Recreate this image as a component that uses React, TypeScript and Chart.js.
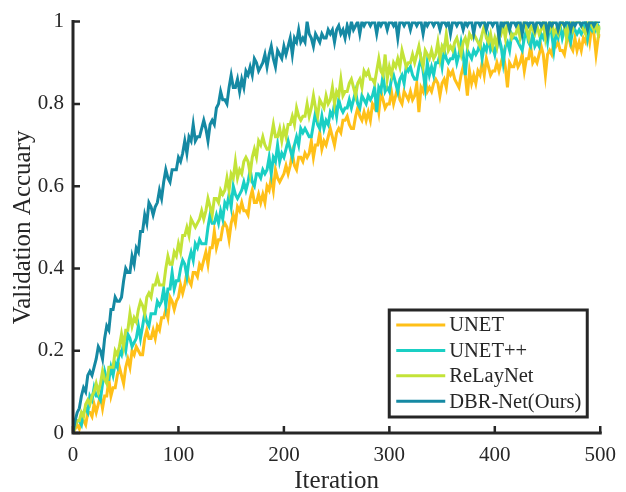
import React, { useEffect, useRef } from "react";
import { Chart, registerables } from "chart.js";

Chart.register(...registerables);

// iteration numbers (every 2 iterations)
const iterations = [
  0, 2, 4, 6, 8, 10, 12, 14, 16, 18, 20, 22, 24, 26, 28, 30, 32, 34, 36, 38,
  40, 42, 44, 46, 48, 50, 52, 54, 56, 58, 60, 62, 64, 66, 68, 70, 72, 74, 76, 78,
  80, 82, 84, 86, 88, 90, 92, 94, 96, 98, 100, 102, 104, 106, 108, 110, 112, 114, 116, 118,
  120, 122, 124, 126, 128, 130, 132, 134, 136, 138, 140, 142, 144, 146, 148, 150, 152, 154, 156, 158,
  160, 162, 164, 166, 168, 170, 172, 174, 176, 178, 180, 182, 184, 186, 188, 190, 192, 194, 196, 198,
  200, 202, 204, 206, 208, 210, 212, 214, 216, 218, 220, 222, 224, 226, 228, 230, 232, 234, 236, 238,
  240, 242, 244, 246, 248, 250, 252, 254, 256, 258, 260, 262, 264, 266, 268, 270, 272, 274, 276, 278,
  280, 282, 284, 286, 288, 290, 292, 294, 296, 298, 300, 302, 304, 306, 308, 310, 312, 314, 316, 318,
  320, 322, 324, 326, 328, 330, 332, 334, 336, 338, 340, 342, 344, 346, 348, 350, 352, 354, 356, 358,
  360, 362, 364, 366, 368, 370, 372, 374, 376, 378, 380, 382, 384, 386, 388, 390, 392, 394, 396, 398,
  400, 402, 404, 406, 408, 410, 412, 414, 416, 418, 420, 422, 424, 426, 428, 430, 432, 434, 436, 438,
  440, 442, 444, 446, 448, 450, 452, 454, 456, 458, 460, 462, 464, 466, 468, 470, 472, 474, 476, 478,
  480, 482, 484, 486, 488, 490, 492, 494, 496, 498, 500,
];

// validation accuracy in percent
const unetPct = [
  0, 1, 2, 1, 3, 3, 2, 5, 5, 4,
  7, 5, 7, 9, 6, 9, 9, 13, 9, 11,
  11, 14, 16, 14, 12, 16, 18, 16, 20, 19,
  21, 20, 19, 19, 23, 25, 23, 23, 25, 23,
  26, 25, 28, 28, 30, 28, 33, 32, 30, 32,
  33, 36, 34, 36, 39, 37, 36, 39, 39, 38,
  41, 40, 42, 44, 41, 45, 45, 49, 45, 47,
  47, 50, 51, 50, 47, 51, 53, 51, 55, 54,
  56, 54, 54, 53, 57, 59, 56, 56, 58, 56,
  58, 56, 60, 59, 62, 59, 64, 62, 61, 62,
  63, 65, 63, 65, 68, 65, 64, 67, 67, 66,
  68, 67, 68, 71, 67, 70, 70, 73, 69, 71,
  70, 72, 74, 72, 70, 73, 74, 73, 76, 76,
  77, 75, 74, 74, 77, 79, 77, 76, 78, 76,
  78, 76, 80, 79, 81, 78, 83, 81, 79, 80,
  80, 83, 80, 82, 84, 81, 80, 83, 82, 81,
  83, 81, 82, 85, 78, 84, 83, 86, 83, 84,
  83, 85, 86, 85, 82, 85, 86, 84, 88, 87,
  88, 86, 85, 84, 87, 89, 87, 82, 88, 85,
  87, 85, 88, 87, 90, 87, 91, 89, 87, 88,
  88, 90, 88, 90, 92, 89, 84, 90, 89, 89,
  91, 89, 90, 92, 88, 91, 91, 94, 90, 91,
  90, 92, 94, 92, 87, 92, 93, 92, 95, 94,
  95, 93, 93, 92, 95, 97, 94, 93, 96, 93,
  95, 93, 96, 95, 98, 95, 99, 97, 92, 96,
  97,
];

const unetppPct = [
  0, 2, 3, 3, 2, 5, 6, 5, 9, 8,
  11, 9, 9, 8, 12, 15, 13, 13, 16, 14,
  17, 16, 20, 19, 22, 20, 24, 23, 21, 22,
  23, 26, 23, 26, 29, 27, 26, 29, 29, 29,
  32, 31, 32, 35, 31, 35, 35, 39, 35, 37,
  37, 40, 42, 41, 38, 42, 44, 42, 46, 45,
  47, 46, 46, 46, 50, 53, 51, 51, 53, 51,
  54, 52, 56, 55, 58, 55, 60, 58, 57, 58,
  59, 61, 59, 61, 64, 61, 60, 63, 63, 62,
  64, 63, 64, 67, 63, 67, 66, 70, 66, 68,
  67, 69, 71, 69, 67, 70, 72, 70, 74, 73,
  74, 73, 72, 72, 75, 78, 75, 74, 77, 74,
  76, 75, 78, 77, 80, 77, 81, 79, 78, 79,
  79, 81, 79, 81, 83, 80, 79, 82, 81, 80,
  82, 81, 82, 84, 78, 84, 83, 87, 83, 84,
  83, 86, 87, 85, 83, 86, 87, 85, 89, 88,
  89, 87, 86, 86, 89, 91, 88, 84, 90, 87,
  89, 87, 90, 90, 92, 89, 93, 91, 90, 91,
  91, 93, 90, 92, 95, 92, 87, 93, 92, 91,
  93, 92, 93, 95, 91, 94, 93, 96, 93, 94,
  92, 95, 96, 94, 90, 94, 95, 93, 97, 96,
  96, 95, 94, 93, 96, 98, 95, 94, 97, 94,
  95, 94, 97, 96, 98, 95, 99, 97, 93, 97,
  96, 99, 96, 98, 100, 97, 95, 98, 98, 97,
  98, 97, 98, 100, 96, 99, 98, 100, 98, 99,
  98,
];

const relaynetPct = [
  0, 2, 3, 3, 5, 4, 7, 8, 7, 9,
  10, 12, 10, 12, 15, 13, 12, 16, 16, 16,
  20, 19, 21, 24, 21, 25, 25, 29, 26, 28,
  27, 30, 32, 31, 29, 33, 34, 33, 36, 36,
  38, 36, 36, 36, 40, 43, 41, 41, 44, 43,
  46, 44, 48, 48, 50, 48, 52, 51, 50, 51,
  52, 54, 52, 54, 57, 55, 53, 57, 57, 56,
  59, 58, 59, 62, 59, 63, 62, 66, 62, 64,
  63, 66, 67, 66, 63, 67, 69, 67, 71, 70,
  72, 70, 69, 69, 72, 75, 72, 72, 74, 71,
  74, 72, 75, 75, 77, 75, 79, 77, 76, 77,
  77, 80, 77, 79, 82, 79, 77, 81, 80, 79,
  82, 80, 81, 84, 80, 83, 82, 86, 82, 83,
  83, 85, 86, 84, 82, 85, 86, 84, 88, 87,
  88, 86, 86, 85, 88, 91, 88, 87, 92, 86,
  89, 87, 90, 89, 91, 89, 93, 91, 89, 90,
  90, 92, 90, 92, 94, 91, 89, 93, 92, 91,
  93, 91, 92, 95, 91, 94, 93, 97, 93, 94,
  93, 95, 96, 94, 92, 95, 96, 94, 97, 96,
  97, 96, 95, 94, 97, 99, 96, 95, 97, 94,
  96, 94, 98, 97, 99, 96, 100, 98, 96, 97,
  97, 99, 96, 98, 100, 98, 96, 99, 98, 97,
  99, 97, 98, 100, 96, 99, 98, 100, 97, 98,
  97, 99, 100, 99, 96, 99, 100, 98, 100, 100,
  100, 99, 98, 97, 100, 100, 99, 98, 100, 97,
  99,
];

const dbrnetPct = [
  0, 3, 5, 6, 9, 11, 10, 14, 15, 14,
  16, 18, 21, 20, 18, 23, 26, 25, 30, 30,
  33, 32, 32, 33, 37, 40, 39, 39, 43, 41,
  45, 44, 49, 49, 53, 51, 56, 55, 53, 55,
  56, 59, 57, 61, 64, 62, 61, 64, 64, 64,
  67, 66, 68, 71, 68, 72, 71, 75, 71, 72,
  72, 74, 76, 74, 71, 75, 76, 75, 79, 80,
  83, 81, 81, 80, 84, 87, 84, 84, 86, 83,
  86, 84, 88, 87, 89, 87, 91, 90, 88, 89,
  90, 92, 89, 92, 94, 91, 89, 93, 92, 91,
  94, 92, 94, 96, 92, 96, 95, 98, 95, 96,
  95, 100, 97, 96, 94, 97, 96, 95, 97, 96,
  96, 98, 97, 98, 95, 98, 99, 97, 98, 96,
  99, 97, 100, 98, 99, 100, 97, 100, 99, 100,
  100, 99, 100, 100, 97, 100, 99, 100, 100, 98,
  100, 100, 99, 100, 96, 100, 100, 99, 100, 100,
  98, 100, 100, 99, 100, 100, 97, 100, 99, 100,
  100, 99, 100, 100, 98, 100, 100, 99, 100, 97,
  100, 100, 99, 100, 100, 98, 100, 99, 100, 100,
  97, 100, 100, 99, 100, 100, 98, 100, 100, 99,
  100, 100, 96, 100, 99, 100, 100, 98, 100, 100,
  99, 100, 100, 97, 100, 100, 99, 100, 100, 98,
  100, 100, 99, 100, 100, 97, 100, 99, 100, 100,
  98, 100, 100, 99, 100, 100, 98, 100, 99, 100,
  100, 99, 100, 100, 98, 100, 100, 99, 100, 100,
  100,
];

const seriesLabels = ["UNET", "UNET++", "ReLayNet", "DBR-Net(Ours)"];
const seriesColors = ["#FFC018", "#1ACFC4", "#C3E338", "#1589A3"];
const xTitle = "Iteration";
const yTitle = "Validation Accuary";

const FONT = "'Liberation Serif', 'Times New Roman', serif";
const INK = "#262626";

const axesPlugin = {
  id: "matlabAxes",
  afterDatasetsDraw(chart: any) {
    const { ctx, chartArea, scales } = chart;
    const xs = scales.x;
    const ys = scales.y;
    ctx.save();
    ctx.strokeStyle = INK;
    ctx.lineWidth = 3;
    ctx.lineCap = "square";
    ctx.beginPath();
    ctx.moveTo(chartArea.left, chartArea.top);
    ctx.lineTo(chartArea.left, chartArea.bottom);
    ctx.lineTo(chartArea.right, chartArea.bottom);
    ctx.stroke();
    ctx.lineCap = "butt";
    ctx.lineWidth = 2.5;
    ctx.beginPath();
    xs.ticks.forEach((_t: any, i: number) => {
      const px = xs.getPixelForTick(i);
      ctx.moveTo(px, chartArea.bottom);
      ctx.lineTo(px, chartArea.bottom - 7);
    });
    ys.ticks.forEach((_t: any, i: number) => {
      const py = ys.getPixelForTick(i);
      ctx.moveTo(chartArea.left, py);
      ctx.lineTo(chartArea.left + 7, py);
    });
    ctx.stroke();
    ctx.restore();
  },
};

const legendPlugin = {
  id: "boxLegend",
  afterDraw(chart: any) {
    const { ctx, chartArea } = chart;
    const w = 198;
    const h = 107;
    const right = chartArea.right - 13;
    const bottom = chartArea.bottom - 16;
    const left = right - w;
    const top = bottom - h;
    ctx.save();
    ctx.fillStyle = "#ffffff";
    ctx.fillRect(left, top, w, h);
    ctx.strokeStyle = INK;
    ctx.lineWidth = 3;
    ctx.strokeRect(left, top, w, h);
    ctx.font = `20.5px ${FONT}`;
    ctx.textBaseline = "middle";
    ctx.textAlign = "left";
    chart.data.datasets.forEach((ds: any, i: number) => {
      const y = top + 15 + i * 25.4;
      ctx.strokeStyle = ds.borderColor;
      ctx.lineWidth = 3;
      ctx.beginPath();
      ctx.moveTo(left + 7, y);
      ctx.lineTo(left + 56, y);
      ctx.stroke();
      ctx.fillStyle = INK;
      ctx.fillText(ds.label, left + 60, y + 1);
    });
    ctx.restore();
  },
};

export default function App() {
  const canvasRef = useRef<HTMLCanvasElement | null>(null);

  useEffect(() => {
    if (!canvasRef.current) return;
    const seriesValues = [unetPct, unetppPct, relaynetPct, dbrnetPct];
    const datasets = seriesValues.map((vals, i) => ({
      label: seriesLabels[i],
      data: iterations.map((x, j) => ({ x, y: vals[j] / 100 })),
      borderColor: seriesColors[i],
      backgroundColor: seriesColors[i],
      borderWidth: 3,
      pointRadius: 0,
      tension: 0,
      fill: false,
      order: 3 - i,
    }));

    const chart = new Chart(canvasRef.current, {
      type: "line",
      data: { datasets },
      options: {
        responsive: false,
        animation: false,
        layout: { padding: { top: 19, right: 19, left: 0, bottom: 0 } },
        plugins: { legend: { display: false }, tooltip: { enabled: false } },
        scales: {
          x: {
            type: "linear",
            min: 0,
            max: 500,
            border: { display: false },
            grid: { display: false, drawTicks: false },
            ticks: {
              stepSize: 100,
              color: INK,
              padding: 10,
              font: { family: FONT, size: 21 },
              maxRotation: 0,
            },
            title: {
              display: true,
              text: xTitle,
              color: INK,
              font: { family: FONT, size: 25, lineHeight: 1 },
              padding: { top: 0, bottom: -2 },
            },
            afterFit: (scale: any) => {
              scale.height = 59;
            },
          },
          y: {
            type: "linear",
            min: 0,
            max: 1,
            border: { display: false },
            grid: { display: false, drawTicks: false },
            ticks: {
              stepSize: 0.2,
              color: INK,
              padding: 9,
              font: { family: FONT, size: 21 },
              callback: (v: any) => String(Math.round(Number(v) * 10) / 10),
            },
            title: {
              display: true,
              text: yTitle,
              color: INK,
              font: { family: FONT, size: 25, lineHeight: 1.2 },
              padding: { top: 8, bottom: 0 },
            },
            afterFit: (scale: any) => {
              scale.width = 73;
            },
          },
        },
      },
      plugins: [axesPlugin, legendPlugin],
    });
    return () => chart.destroy();
  }, []);

  return (
    <div style={{ position: "fixed", left: 0, top: 0, width: 626, height: 492, background: "#fff" }}>
      <canvas ref={canvasRef} width={626} height={492} style={{ display: "block" }} />
    </div>
  );
}
